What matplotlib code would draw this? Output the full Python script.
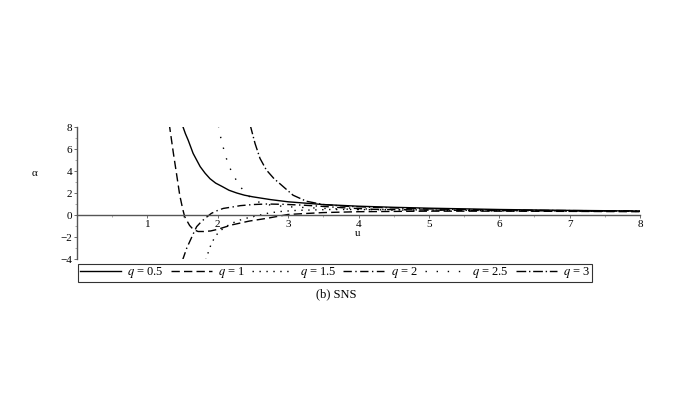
import matplotlib
matplotlib.use('Agg')
import matplotlib.pyplot as plt
import matplotlib.ticker as ticker

plt.rcParams['font.family'] = ['Liberation Serif', 'DejaVu Serif']
plt.rcParams['mathtext.fontset'] = 'stix'

# curves (u, alpha)
u_q05 = [1.49, 1.54, 1.58, 1.65, 1.70, 1.75, 1.82, 1.89, 1.97, 2.06, 2.16, 2.27, 2.38, 2.50, 2.75, 3.0, 3.5, 4.0, 4.5, 5.0, 6.0, 7.0, 8.0]
a_q05 = [8.3, 7.4, 6.8, 5.6, 5.0, 4.4, 3.8, 3.3, 2.9, 2.6, 2.25, 2.0, 1.8, 1.65, 1.4, 1.2, 0.95, 0.8, 0.7, 0.62, 0.5, 0.42, 0.36]

u_q1 = [1.31, 1.37, 1.42, 1.46, 1.50, 1.53, 1.56, 1.60, 1.65, 1.72, 1.80, 1.90, 2.0, 2.2, 2.45, 2.7, 3.0, 3.5, 4.0, 5.0, 6.0, 7.0, 8.0]
a_q1 = [8.3, 5.6, 3.5, 1.8, 0.6, -0.15, -0.5, -0.95, -1.3, -1.5, -1.5, -1.45, -1.3, -0.9, -0.55, -0.3, 0.05, 0.22, 0.3, 0.35, 0.35, 0.33, 0.3]

u_q15 = [1.83, 1.88, 1.91, 1.96, 2.02, 2.13, 2.22, 2.32, 2.46, 2.6, 2.74, 2.9, 3.12, 3.6, 4.0, 5.0, 6.0, 7.0, 8.0]
a_q15 = [-4.1, -3.1, -2.6, -2.0, -1.5, -1.0, -0.7, -0.45, -0.2, 0.0, 0.2, 0.32, 0.42, 0.5, 0.5, 0.45, 0.4, 0.36, 0.33]

u_q2 = [1.50, 1.56, 1.61, 1.66, 1.70, 1.76, 1.82, 1.91, 2.0, 2.08, 2.2, 2.32, 2.5, 2.7, 2.93, 3.2, 3.4, 3.8, 4.2, 5.0, 6.0, 7.0, 8.0]
a_q2 = [-4.1, -3.0, -2.3, -1.6, -1.06, -0.65, -0.3, 0.15, 0.42, 0.6, 0.72, 0.85, 0.95, 1.0, 0.97, 0.9, 0.82, 0.65, 0.52, 0.45, 0.4, 0.37, 0.34]

u_q25 = [2.01, 2.05, 2.08, 2.11, 2.15, 2.20, 2.26, 2.33, 2.43, 2.57, 2.75, 3.0, 3.5, 4.0, 5.0, 6.0, 7.0, 8.0]
a_q25 = [8.1, 6.8, 6.1, 5.4, 4.6, 3.9, 3.2, 2.5, 1.75, 1.2, 0.9, 0.75, 0.6, 0.5, 0.42, 0.38, 0.35, 0.33]

u_q3 = [2.46, 2.53, 2.60, 2.69, 2.80, 2.90, 3.07, 3.26, 3.5, 3.8, 4.2, 5.0, 6.0, 7.0, 8.0]
a_q3 = [8.2, 6.5, 5.15, 4.1, 3.3, 2.75, 1.8, 1.25, 0.95, 0.8, 0.7, 0.55, 0.45, 0.4, 0.37]

labels = ['$q$ = 0.5', '$q$ = 1', '$q$ = 1.5', '$q$ = 2', '$q$ = 2.5', '$q$ = 3']
styles = ['-', (0, (6, 3)), (0, (1, 4)), (0, (6, 2.5, 1, 2.5)), (0, (1, 7)), (0, (7, 2, 1, 2))]

fig = plt.figure(figsize=(6.92, 4.15), dpi=100)
ax = fig.add_axes([77/692, 1-259/415, 563/692, 132/415])

curves = [(u_q05, a_q05), (u_q1, a_q1), (u_q15, a_q15), (u_q2, a_q2), (u_q25, a_q25), (u_q3, a_q3)]
for (u, a), ls, lab in zip(curves, styles, labels):
    ax.plot(u, a, color='black', lw=1.0, linestyle=ls, label=lab)

ax.set_xlim(0, 8)
ax.set_ylim(-4, 8)

for s in ['top', 'right']:
    ax.spines[s].set_visible(False)
ax.spines['bottom'].set_position(('data', 0))
ax.spines['left'].set_color('#555555')
ax.spines['bottom'].set_color('#555555')
ax.spines['left'].set_linewidth(1.0)
ax.spines['bottom'].set_linewidth(1.0)

ax.xaxis.set_major_locator(ticker.FixedLocator([1, 2, 3, 4, 5, 6, 7, 8]))
ax.xaxis.set_minor_locator(ticker.MultipleLocator(0.5))
ax.yaxis.set_major_locator(ticker.MultipleLocator(2))
ax.yaxis.set_minor_locator(ticker.MultipleLocator(1))
ax.tick_params(which='major', length=2.5, width=0.6, colors='#555555', labelcolor='black', labelsize=8, pad=1)
ax.tick_params(which='minor', length=1.5, width=0.5, colors='#888888')
ax.yaxis.set_major_formatter(ticker.FuncFormatter(lambda v, p: ('\u2212%d' % -v) if v < 0 else '%d' % v))

fig.text(34/692, 1-173/415, '\u03b1', fontsize=8, ha='center', va='center')
fig.text(358/692, 1-233/415, 'u', fontsize=8, ha='center', va='center')
fig.text(336/692, 1-294/415, '(b) SNS', fontsize=9, ha='center', va='center')

leg = fig.legend(loc='center', bbox_to_anchor=(335/692, 1-273/415), ncol=6, fontsize=9,
                 frameon=True, fancybox=False, edgecolor='black', handlelength=3.3,
                 handletextpad=0.5, columnspacing=0.55, borderpad=0.1, borderaxespad=0)
leg.get_frame().set_linewidth(0.8)

fig.savefig('out.png', dpi=100)
